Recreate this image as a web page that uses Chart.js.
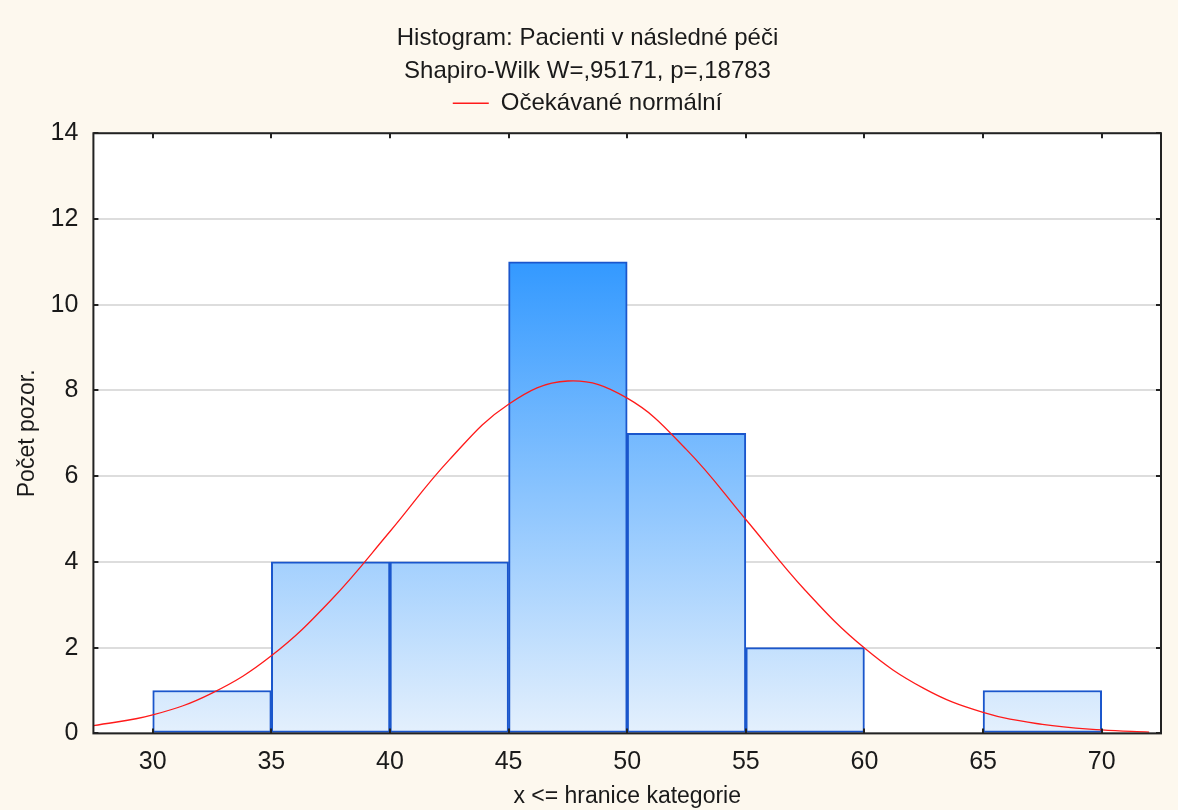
<!DOCTYPE html>
<html>
<head>
<meta charset="utf-8">
<script src="https://cdn.jsdelivr.net/npm/chart.js@4"></script>
<style>
  html, body { margin: 0; padding: 0; background: #fdf8ee; }
  #wrap { width: 1178px; height: 810px; }
</style>
</head>
<body>
<div id="wrap"><canvas id="chartHist"></canvas></div>
<script>
// histogram classes (upper bounds) and counts
const binCenters = [32.5, 37.5, 42.5, 47.5, 52.5, 57.5, 62.5, 67.5];
const binCounts = [1, 4, 4, 11, 7, 2, 0, 1];

// expected normal curve
const curveX = [27.5, 30, 32.5, 35, 37.5, 40, 42.5, 45, 47.5, 50, 52.5, 55, 57.5, 60, 62.5, 65, 67.5, 70, 72];
const curveY = [0.18, 0.43, 0.94, 1.81, 3.10, 4.71, 6.38, 7.68, 8.22, 7.82, 6.62, 4.99, 3.34, 1.99, 1.05, 0.49, 0.21, 0.08, 0.03];

const xTicks = [30, 35, 40, 45, 50, 55, 60, 65, 70];

const ctx = document.getElementById('chartHist');
Chart.defaults.font.family = '"Liberation Sans", Arial, sans-serif';
Chart.defaults.color = '#1a1a1a';

// white plot area, black frame and small inward tick marks
const plotBox = {
  id: 'plotBox',
  beforeDraw(chart) {
    const a = chart.chartArea, c = chart.ctx;
    c.save();
    c.fillStyle = '#ffffff';
    c.fillRect(a.left, a.top, a.right - a.left, a.bottom - a.top);
    c.restore();
  },
  afterDraw(chart) {
    const a = chart.chartArea, c = chart.ctx;
    const xs = chart.scales.x, ys = chart.scales.y;
    c.save();
    c.strokeStyle = '#222';
    c.lineWidth = 2;
    c.strokeRect(a.left, a.top, a.right - a.left, a.bottom - a.top);
    c.beginPath();
    xs.ticks.forEach(t => {
      const px = Math.round(xs.getPixelForValue(t.value));
      c.moveTo(px, a.bottom); c.lineTo(px, a.bottom - 5);
      c.moveTo(px, a.top); c.lineTo(px, a.top + 5);
    });
    ys.ticks.forEach(t => {
      const py = Math.round(ys.getPixelForValue(t.value));
      c.moveTo(a.left, py); c.lineTo(a.left + 5, py);
      c.moveTo(a.right, py); c.lineTo(a.right - 5, py);
    });
    c.stroke();
    c.restore();
  }
};

// extra gap under the legend
const legendGap = {
  id: 'legendGap',
  beforeInit(chart) {
    if (!chart.legend) return;
    const fit = chart.legend.fit;
    chart.legend.fit = function () {
      fit.bind(chart.legend)();
      this.height += 8;
    };
  }
};

function barFill(context) {
  const chart = context.chart;
  const a = chart.chartArea;
  if (!a) return '#9cc9fb';
  const y = chart.scales.y;
  const g = chart.ctx.createLinearGradient(0, y.getPixelForValue(11), 0, y.getPixelForValue(0));
  g.addColorStop(0, '#3399ff');
  g.addColorStop(1, '#e4f0fd');
  return g;
}

new Chart(ctx, {
  data: {
    datasets: [{
      type: 'line',
      label: 'Očekávané normální',
      data: curveX.map((x, i) => ({ x: x, y: curveY[i] })),
      borderColor: '#ff1a1a',
      borderWidth: 1.3,
      pointRadius: 0,
      tension: 0.4,
      fill: false,
      order: 0
    }, {
      type: 'bar',
      label: 'hist',
      data: binCenters.map((x, i) => ({ x: x, y: binCounts[i] })),
      backgroundColor: barFill,
      borderColor: '#1a56cc',
      borderWidth: 2,
      borderSkipped: false,
      barPercentage: 1,
      categoryPercentage: 1,
      order: 1
    }]
  },
  plugins: [plotBox, legendGap],
  options: {
    responsive: true,
    maintainAspectRatio: false,
    animation: false,
    layout: { padding: { left: 14, right: 17, top: 18, bottom: 0 } },
    plugins: {
      title: {
        display: true,
        text: ['Histogram: Pacienti v následné péči', 'Shapiro-Wilk W=,95171, p=,18783'],
        font: { size: 24, weight: 'normal', lineHeight: 1.38 },
        color: '#1a1a1a',
        padding: { top: 4, bottom: -10 }
      },
      legend: {
        display: true,
        labels: {
          filter: item => item.text !== 'hist',
          usePointStyle: true,
          pointStyle: 'line',
          pointStyleWidth: 36,
          boxHeight: 1,
          font: { size: 24 },
          color: '#1a1a1a',
          padding: 13
        }
      },
      tooltip: { enabled: false }
    },
    scales: {
      x: {
        type: 'linear',
        offset: false,
        min: 27.5,
        max: 72.5,
        afterBuildTicks: axis => { axis.ticks = xTicks.map(v => ({ value: v })); },
        grid: { display: false, drawTicks: false },
        border: { display: false },
        ticks: { font: { size: 25 }, color: '#1a1a1a', padding: 14 },
        title: { display: true, text: 'x <= hranice kategorie', font: { size: 23 }, color: '#1a1a1a', padding: { top: -9, bottom: 0 } }
      },
      y: {
        min: 0,
        max: 14,
        ticks: { stepSize: 2, font: { size: 25 }, color: '#1a1a1a', padding: 15 },
        grid: { color: '#dddddd', lineWidth: 2, drawTicks: false },
        border: { display: false },
        title: { display: true, text: 'Počet pozor.', font: { size: 23 }, color: '#1a1a1a', padding: { top: 0, bottom: -6 } }
      }
    }
  }
});
</script>
</body>
</html>
